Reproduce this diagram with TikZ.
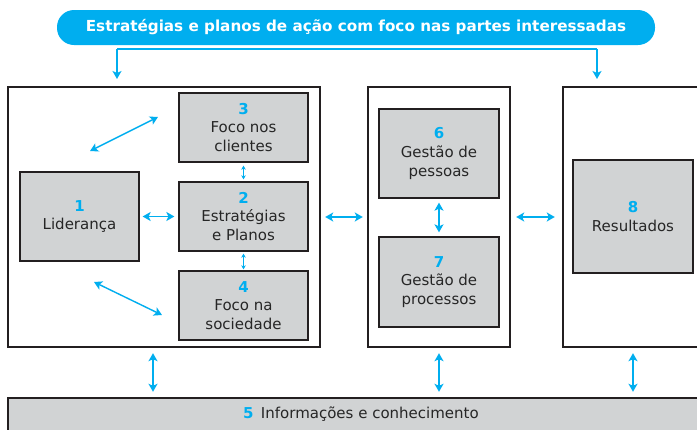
\documentclass[tikz,border=0pt]{standalone}
\usepackage{fontspec}
\setmainfont{DejaVu Sans}
\usetikzlibrary{arrows.meta}
\definecolor{cy}{HTML}{00AEEF}
\definecolor{boxgray}{HTML}{D1D3D4}
\definecolor{edge}{HTML}{231F20}
\begin{document}
\begin{tikzpicture}[x=1pt,y=-1pt,
  outerbox/.style={draw=edge,line width=1.1pt,fill=white},
  innerbox/.style={draw=edge,line width=1.3pt,fill=boxgray,inner sep=0pt,align=center,
    font=\fontsize{15}{18.8}\selectfont,text=black!85},
  bigarrow/.style={cy,line width=1.4pt,{Stealth[length=8pt,width=9pt,inset=2pt]}-{Stealth[length=8pt,width=9pt,inset=2pt]}},
  smallarrow/.style={cy,line width=0.7pt,{Stealth[length=4pt,width=4.5pt,inset=1pt]}-{Stealth[length=4pt,width=4.5pt,inset=1pt]}},
  feedarrow/.style={cy,line width=1.4pt,-{Stealth[length=8pt,width=9pt,inset=2pt]}}]
\useasboundingbox (0,0) rectangle (697,429);
\clip (0,0) rectangle (697,429);
% title pill
\node[fill=cy,rounded corners=17pt,minimum width=598pt,minimum height=35pt,inner sep=0pt,
  text=white,font=\bfseries\fontsize{15.2}{18}\selectfont] (title) at (356,27.5)
  {Estratégias e planos de ação com foco nas partes interessadas};
\coordinate (tl) at (117,49);
\coordinate (tr) at (597,49);
\coordinate (tla) at (117,79);
\coordinate (tra) at (597,79);
% outer boxes
\draw[outerbox] (8,87) rectangle (320,347);
\draw[outerbox] (368,87) rectangle (510,347);
\draw[outerbox] (563,87) rectangle (720,347);
\node[inner sep=0pt,minimum width=312pt,minimum height=260pt] (L) at (164,217) {};
\node[inner sep=0pt,minimum width=142pt,minimum height=260pt] (M) at (439,217) {};
\node[inner sep=0pt,minimum width=157pt,minimum height=260pt] (R) at (641.5,217) {};
% bottom bar
\draw[draw=edge,line width=1.1pt,fill=boxgray] (8,398) rectangle (720,440);
\node[inner sep=0pt,minimum width=712pt,minimum height=42pt] (B) at (364,419) {};
\node[font=\fontsize{15}{18}\selectfont,text=black!85] (Btext) at (361,414)
  {\textcolor{cy}{\bfseries 5}\, Informações e conhecimento};
% inner boxes
\node[innerbox,minimum width=129pt,minimum height=69pt] (n3) at (243.5,127.5)
  {\textcolor{cy}{\bfseries 3}\\Foco nos\\clientes};
\node[innerbox,minimum width=129pt,minimum height=69pt] (n2) at (243.5,216.5)
  {\textcolor{cy}{\bfseries 2}\\Estratégias\\e Planos};
\node[innerbox,minimum width=129pt,minimum height=69pt] (n4) at (243.5,305.5)
  {\textcolor{cy}{\bfseries 4}\\Foco na\\sociedade};
\node[innerbox,minimum width=119pt,minimum height=89pt] (n1) at (79.5,216.5)
  {\textcolor{cy}{\bfseries 1}\\Liderança};
\node[innerbox,minimum width=120pt,minimum height=89pt] (n6) at (439,153.5)
  {\textcolor{cy}{\bfseries 6}\\Gestão de\\pessoas};
\node[innerbox,minimum width=120pt,minimum height=90pt] (n7) at (439,282)
  {\textcolor{cy}{\bfseries 7}\\Gestão de\\processos};
\node[innerbox,minimum width=120pt,minimum height=113pt] (n8) at (633,216.5)
  {\textcolor{cy}{\bfseries 8}\\Resultados};
% top feed arrows
\draw[feedarrow] (tr) -- (tra);
\draw[feedarrow] (tl) -- (tla);
\draw[cy,line width=1.4pt] (tl) -- (tr);
% diagonal arrows
\coordinate (d1a) at (90,151);
\coordinate (d1b) at (158,117);
\coordinate (d2a) at (94,282);
\coordinate (d2b) at (162,315);
\draw[bigarrow] (d1a) -- (d1b);
\draw[bigarrow] (d2a) -- (d2b);
% internal arrows
\draw[bigarrow,shorten <=3pt,shorten >=4pt] (n1.east) -- (n2.west);
\draw[smallarrow,shorten <=3pt,shorten >=2pt] (n3.south) -- (n2.north);
\draw[smallarrow,shorten <=2pt,shorten >=1pt] (n2.south) -- (n4.north);
\draw[bigarrow,shorten <=4pt,shorten >=4pt] (n6.south) -- (n7.north);
% between columns
\draw[bigarrow,shorten <=5pt,shorten >=5pt] (L.east) -- (M.west);
\draw[bigarrow,shorten <=6pt,shorten >=8pt] (M.east) -- (R.west);
% bottom arrows
\draw[bigarrow,shorten <=6pt,shorten >=6pt] (L.south -| 153,0) -- (B.north -| 153,0);
\draw[bigarrow,shorten <=6pt,shorten >=6pt] (M.south) -- (B.north -| M.south);
\draw[bigarrow,shorten <=6pt,shorten >=6pt] (R.south -| 633,0) -- (B.north -| 633,0);
\end{tikzpicture}
\end{document}
